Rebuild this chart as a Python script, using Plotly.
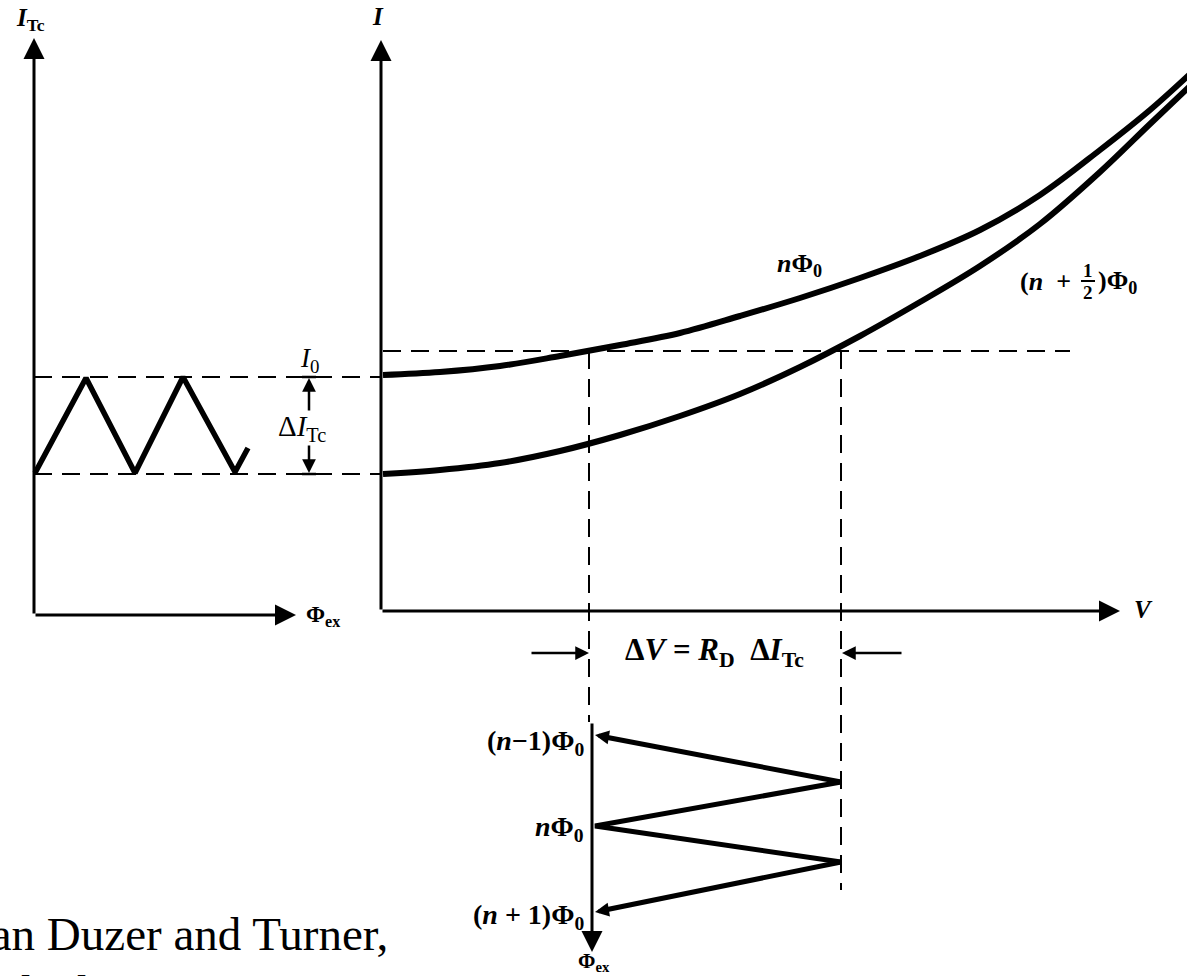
import plotly.graph_objects as go

# Diagram coordinates: x to the right, y downward (same units as the page).
W, H = 1187, 976

# Left panel: critical current versus applied flux
itc_axis_origin = (34, 615)
itc_axis_top = 38
itc_axis_right = 296
itc_wave_x = [35, 86, 135, 183, 235, 248]
itc_wave_y = [473, 378, 473, 377, 472, 448]
itc_max_level = 377
itc_min_level = 474

# Right panel: I-V characteristics for integer and half-integer flux
iv_axis_origin = (381, 611)
iv_axis_top = 40
iv_axis_right = 1120
curve_v = [383, 440, 500, 560, 620, 680, 740, 800, 860, 920, 980, 1040, 1100, 1150, 1190]
curve_n_i = [375, 372, 366, 356, 345, 333, 316, 298, 278, 256, 230, 195, 150, 110, 74]
curve_half_i = [474, 470, 463, 451, 435, 416, 394, 367, 336, 302, 266, 224, 172, 124, 86]
bias_level = 351
bias_left, bias_right = 383, 1070
v_low, v_high = 589, 841

# Bottom panel: output voltage versus flux
flux_axis_x = 592
flux_axis_top = 722
flux_axis_bottom = 952
flux_levels = [735, 826, 912]
flux_labels = ["(<i>n</i>−1)Φ<sub>0</sub>", "<i>n</i>Φ<sub>0</sub>", "(<i>n</i> + 1)Φ<sub>0</sub>"]
flux_label_y = [742, 828, 916]
vout_peak_y = [782, 862]

# Source note lines
note_lines = ["Van Duzer and Turner,", "2nd edition, page 272"]
note_y = [934, 992]

INK = "#000000"
SERIF = "Liberation Serif"

fig = go.Figure()


def poly(xs, ys, width, dash="solid", shape="linear"):
    fig.add_trace(go.Scatter(
        x=xs, y=ys, mode="lines",
        line=dict(color=INK, width=width, dash=dash, shape=shape, smoothing=1.0),
        hoverinfo="skip", showlegend=False))


def arrow(x0, y0, x1, y1, width=2.5, size=1.4, head=2):
    fig.add_annotation(
        x=x1, y=y1, ax=x0, ay=y0, xref="x", yref="y", axref="x", ayref="y",
        text="", showarrow=True, arrowhead=head, arrowsize=size,
        arrowwidth=width, arrowcolor=INK, standoff=0, startstandoff=0)


def label(x, y, text, size=20, xanchor="center", bold=True, family=SERIF):
    fig.add_annotation(
        x=x, y=y, xref="x", yref="y", text=(f"<b>{text}</b>" if bold else text),
        showarrow=False, xanchor=xanchor, yanchor="middle",
        font=dict(family=family, size=size, color=INK))


dash_style = "18px,10px"

# ---- left panel ----
ox, oy = itc_axis_origin
arrow(ox, oy, ox, itc_axis_top, width=3)
arrow(ox, oy, itc_axis_right, oy, width=3)
poly([ox, 380], [itc_max_level, itc_max_level], 2, dash_style)
poly([ox, 380], [itc_min_level, itc_min_level], 2, dash_style)
poly(itc_wave_x, itc_wave_y, 5.5)
label(30, 19, "<i>I</i><sub>Tc</sub>", 25)
label(323, 616, "Φ<sub>ex</sub>", 23)

# ΔI_Tc marker
arrow(309, 412, 309, itc_max_level + 1, width=2.5, size=1.1)
arrow(309, 444, 309, itc_min_level - 1, width=2.5, size=1.1)
poly([302, 316], [itc_min_level, itc_min_level], 2.5)
poly([302, 316], [itc_max_level, itc_max_level], 2.5)
label(309, 360, "<i>I</i><sub>0</sub>", 27, bold=False)
label(302, 428, "Δ<i>I</i><sub>Tc</sub>", 29, bold=False)

# ---- right panel ----
ox, oy = iv_axis_origin
arrow(ox, oy, ox, iv_axis_top, width=3)
arrow(ox, oy, iv_axis_right, oy, width=3)
poly([bias_left, bias_right], [bias_level, bias_level], 2, dash_style)
poly([v_low, v_low], [bias_level, flux_axis_top], 2, dash_style)
poly([v_high, v_high], [bias_level, 890], 2, dash_style)
poly(curve_v, curve_n_i, 6, shape="spline")
poly(curve_v, curve_half_i, 6, shape="spline")
label(378, 16, "<i>I</i>", 25)
label(1143, 609, "<i>V</i>", 25)
label(799, 265, "<i>n</i>Φ<sub>0</sub>", 26)

# (n + 1/2)Φ0 with a stacked fraction
label(1073, 281, "(<i>n</i>  +", 26, xanchor="right")
label(1088, 270, "1", 19)
label(1088, 292, "2", 19)
poly([1081, 1095], [281, 281], 2)
label(1096, 282, ")Φ<sub>0</sub>", 26, xanchor="left")

# ΔV marker
arrow(530, 653, v_low, 653, width=2.5, size=1.1)
arrow(903, 653, v_high + 1, 653, width=2.5, size=1.1)
label(714, 652, "Δ<i>V</i> = <i>R</i><sub>D</sub>  Δ<i>I</i><sub>Tc</sub>", 31)

# ---- bottom panel ----
arrow(flux_axis_x, flux_axis_top, flux_axis_x, flux_axis_bottom, width=3)
label(594, 962, "Φ<sub>ex</sub>", 21)
lx = flux_axis_x + 3
poly([v_high, lx + 10], [vout_peak_y[0], flux_levels[0] + 2], 5)
arrow(lx + 12, flux_levels[0] + 2, lx, flux_levels[0], width=4, size=0.7)
poly([v_high, lx, v_high], [vout_peak_y[0], flux_levels[1], vout_peak_y[1]], 5)
poly([v_high, lx + 10], [vout_peak_y[1], flux_levels[2] - 2], 5)
arrow(lx + 12, flux_levels[2] - 2, lx, flux_levels[2], width=4, size=0.7)
for ly, txt in zip(flux_label_y, flux_labels):
    label(586, ly, txt, 28, xanchor="right")

# Source note (paper coordinates, running off the left edge)
for ny, txt in zip(note_y, note_lines):
    fig.add_annotation(
        x=-40 / W, y=1 - ny / H, xref="paper", yref="paper", text=txt,
        showarrow=False, xanchor="left", yanchor="middle",
        font=dict(family=SERIF, size=47, color=INK))

fig.update_layout(
    width=W, height=H,
    margin=dict(l=0, r=0, t=0, b=0),
    paper_bgcolor="white", plot_bgcolor="white",
    xaxis=dict(range=[0, W], visible=False, fixedrange=True),
    yaxis=dict(range=[H, 0], visible=False, fixedrange=True),
    showlegend=False,
)

fig.write_html("out.html")
